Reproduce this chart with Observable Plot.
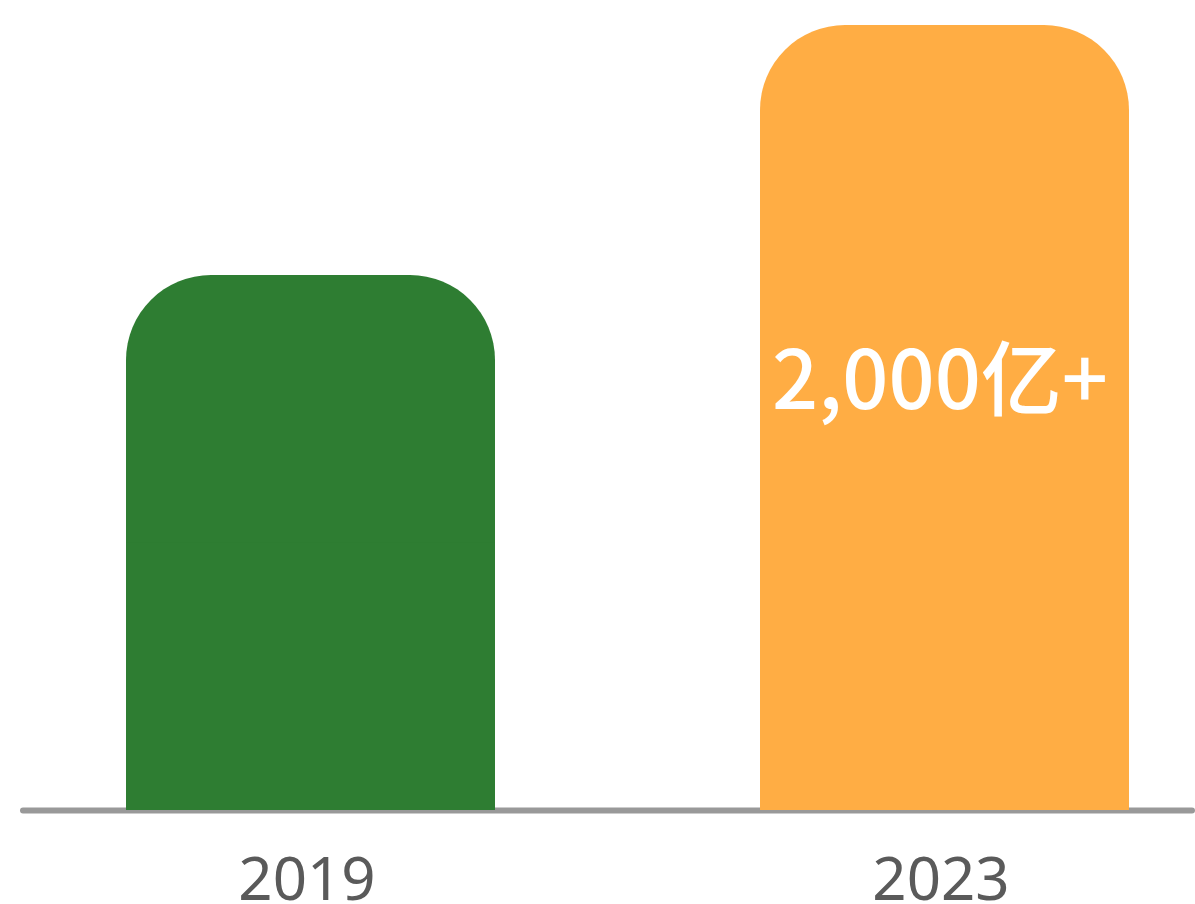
<!DOCTYPE html>
<html><head><meta charset="utf-8">
<script src="https://cdn.jsdelivr.net/npm/d3@7"></script>
<script src="https://cdn.jsdelivr.net/npm/@observablehq/plot@0.6"></script>
<style>body{margin:0;background:#fff;overflow:hidden}</style>
</head><body><div id="chart"></div>
<script>
const years = ["2019", "2023"];
const values = [1363, 2000];
const colors = ["#2e7d32", "#ffad44"];
const labels = ["", "2,000亿+"];
const data = years.map((y, i) => ({year: y, value: values[i], color: colors[i], label: labels[i]}));

const plot = Plot.plot({
  width: 1195, height: 904,
  marginLeft: 23, marginRight: 3, marginTop: 0, marginBottom: 94,
  style: {fontFamily: "'Noto Sans', 'Noto Sans CJK SC', sans-serif", background: "#fff"},
  x: {domain: years, range: [30, 1225], paddingInner: 0.418, paddingOuter: 0.1514, label: null},
  y: {domain: [0, 2000], range: [810, 25], axis: null},
  marks: [
    Plot.ruleY([0], {stroke: "#999", strokeWidth: 6, strokeLinecap: "round"}),
    Plot.barY(data, {x: "year", y: "value", fill: "color", rx: 85}),
    Plot.barY(data, {x: "year", y: d => d.value / 2, fill: "color"}),
    Plot.axisX({tickSize: 0, tickPadding: 47, fontSize: 60, fill: "#5a5a5a", dx: -4, label: null}),
    Plot.text(data.filter(d => d.label), {
      x: "year", y: d => d.value * 0.545, text: "label",
      fill: "white", fontSize: 81, fontWeight: 500,
      fontFamily: "'Noto Sans CJK SC', sans-serif", dx: -5
    })
  ]
});
document.getElementById("chart").appendChild(plot);
</script>
</body></html>
